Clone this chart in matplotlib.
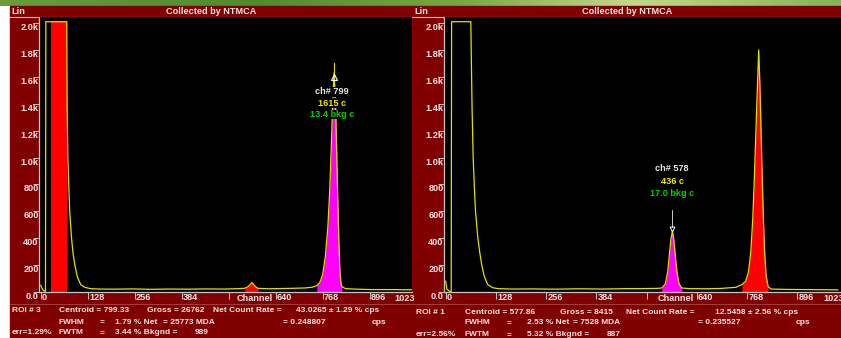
import numpy as np
import matplotlib
matplotlib.use('Agg')  # no display
import matplotlib.pyplot as plt
import matplotlib.transforms as mtransforms
from matplotlib import font_manager
from matplotlib.patches import Rectangle
from matplotlib.colors import LinearSegmentedColormap

plt.rcParams['font.family'] = ['Liberation Sans', 'DejaVu Sans']
plt.rcParams['font.weight'] = 'bold'

W, H = 841, 338
MAROON = '#800000'
TXT = '#f2e4e4'
YEL = '#e0e000'
AXIS = '#c4c4c4'

# the readout rows use a condensed face if there is one
_names = {f.name for f in font_manager.fontManager.ttflist}
if 'Liberation Sans Narrow' in _names:
    INFO_FONT, INFO_SIZE = ['Liberation Sans Narrow', 'DejaVu Sans'], 6.5
else:
    INFO_FONT, INFO_SIZE = ['Liberation Sans', 'DejaVu Sans'], 6.0

left_ch = [0, 3, 8, 13, 14, 27, 71, 72, 74, 77, 79, 84, 88, 93, 100, 109, 120, 136,
           160, 200, 250, 300, 350, 400, 450, 500, 540, 556, 565, 575, 585, 592,
           620, 680, 720, 740, 752, 760, 768, 775, 782, 787, 791, 795, 799, 803,
           806, 809, 812, 815, 818, 820, 830, 860, 900, 960, 1023]
left_counts = [50, 30, 10, 5, 2010, 2010, 2010, 1400, 1000, 750, 600, 400, 290, 200, 110, 55, 35, 25,
               22, 21, 23, 20, 22, 21, 23, 22, 25, 28, 40, 70, 40, 27,
               24, 27, 30, 36, 48, 70, 130, 260, 480, 750, 1050, 1400, 1630, 1400,
               1050, 700, 380, 150, 60, 40, 25, 21, 18, 18, 16]
left_roi_lo = [27, 556, 752]
left_roi_hi = [71, 592, 820]
left_roi_col = ['#ff0000', '#ff0000', '#ff00ff']

right_ch = [0, 3, 10, 14, 15, 64, 65, 67, 70, 73, 76, 82, 87, 92, 98, 107, 120, 133,
            170, 220, 280, 340, 400, 460, 500, 540, 551, 560, 566, 570, 574, 578,
            582, 586, 590, 595, 602, 620, 660, 700, 740, 755, 765, 772, 778, 783,
            787, 791, 795, 798, 801, 804, 807, 810, 813, 817, 822, 830, 870, 920, 1000]
right_counts = [80, 20, 5, 5, 2010, 2010, 1800, 1400, 1000, 780, 600, 400, 290, 200, 120, 55, 32, 25,
                22, 23, 21, 24, 22, 25, 25, 27, 30, 60, 150, 270, 390, 453,
                380, 250, 140, 60, 30, 25, 24, 26, 35, 55, 80, 150, 300, 550,
                850, 1200, 1550, 1800, 1550, 1200, 850, 550, 300, 120, 40, 22, 19, 18, 16]
right_roi_lo = [551, 755]
right_roi_hi = [602, 822]
right_roi_col = ['#ff00ff', '#ff0000']

y_ticks = [0, 200, 400, 600, 800, 1000, 1200, 1400, 1600, 1800, 2000]
y_labels = ['0.0', '200', '400', '600', '800', '1.0k', '1.2k', '1.4k', '1.6k', '1.8k', '2.0k']
x_ticks = [0, 128, 256, 384, 512, 640, 768, 896]
x_labels = ['0', '128', '256', '384', '', '640', '768', '896']

left_cursor = 799
left_marker = ['ch# 799', '1615 c', '13.4 bkg c']
right_cursor = 578
right_marker = ['ch# 578', '436 c', '17.0 bkg c']

# ROI readout lines under each screen: (x px, y px, text)
left_info = [
    (12, 311, 'ROI # 3'), (59, 311, 'Centroid = 799.33'), (147, 311, 'Gross = 26762'),
    (213, 311, 'Net Count Rate ='), (296, 311, '43.0265 \u00b1 1.29 % cps'),
    (59, 322, 'FWHM'), (100, 322, '='), (115, 322, '1.79 % Net'),
    (163, 322, '= 25773 MDA'), (283, 322, '= 0.248807'), (372, 322, 'cps'),
    (12, 333, 'err=1.29%'), (59, 333, 'FWTM'), (100, 333, '='),
    (115, 333, '3.44 % Bkgnd ='), (195, 333, '989'),
]
right_info = [
    (416, 312, 'ROI # 1'), (465, 312, 'Centroid = 577.86'), (560, 312, 'Gross = 8415'),
    (626, 312, 'Net Count Rate ='), (715, 312, '12.5458 \u00b1 2.56 % cps'),
    (465, 323, 'FWHM'), (507, 323, '='), (527, 323, '2.53 % Net'),
    (573, 323, '= 7528 MDA'), (698, 323, '= 0.235527'), (796, 323, 'cps'),
    (416, 335, 'err=2.56%'), (465, 335, 'FWTM'), (507, 335, '='),
    (527, 335, '5.32 % Bkgnd ='), (607, 335, '887'),
]

fig = plt.figure(figsize=(W / 100, H / 100), dpi=100)

# background layer in pixel coordinates
bg = fig.add_axes([0, 0, 1, 1])
bg.set_xlim(0, W)
bg.set_ylim(H, 0)
bg.axis('off')
bg.add_patch(Rectangle((0, 0), W, H, color='white', zorder=0))
green = LinearSegmentedColormap.from_list('slide', [
    (0.0, '#6a9c3c'), (0.3, '#4e8c2e'), (0.55, '#78a842'), (0.75, '#c4d88a'), (1.0, '#86b456')])
bg.imshow(np.linspace(0, 1, 300)[None, :], cmap=green, aspect='auto', extent=(0, W, 6, 0),
          zorder=1)
bg.set_xlim(0, W)
bg.set_ylim(H, 0)
bg.add_patch(Rectangle((10, 6), W - 10, H - 6, color=MAROON, zorder=1.5))
for x0, x1 in [(10, 412), (413, W)]:
    bg.plot([x0, x1], [16.5, 16.5], color=AXIS, lw=0.8, zorder=2)
    bg.plot([x0, x1], [303.5, 303.5], color='#a84848', lw=0.6, zorder=2)
    bg.text(x0 + 1.5, 11.5, 'Lin', color=TXT, fontsize=6.6, va='center')
    bg.text((x0 + x1) / 2, 11.5, 'Collected by NTMCA', color=TXT, fontsize=6.6,
            ha='center', va='center')
for x, y, s in left_info + right_info:
    bg.text(x, y, s, color=TXT, fontsize=INFO_SIZE, family=INFO_FONT, va='center')


def px_axes(x0, y0, x1, y1):
    return fig.add_axes([x0 / W, 1 - y1 / H, (x1 - x0) / W, (y1 - y0) / H])


def draw_panel(ax, ch, counts, lo, hi, cols, xlim):
    ch = np.array(ch)
    counts = np.array(counts)
    ax.set_facecolor('black')
    for a, b, c in zip(lo, hi, cols):
        mask = (ch >= a) & (ch <= b)
        ax.fill_between(ch, counts, where=mask, color=c, lw=0, zorder=1)
    ax.plot(ch, counts, color=YEL, lw=0.9, zorder=2)
    ax.set_xlim(*xlim)
    ax.set_ylim(0, 2045)
    for s in ['top', 'right']:
        ax.spines[s].set_visible(False)
    for s in ['left', 'bottom']:
        ax.spines[s].set_color(AXIS)
        ax.spines[s].set_linewidth(0.9)
    ax.set_yticks(y_ticks, y_labels)
    ax.set_xticks(x_ticks, x_labels)
    ax.tick_params(axis='y', direction='out', length=4, width=0.7, color=AXIS,
                   labelcolor=TXT, labelsize=6.6, pad=-3.6)
    ax.tick_params(axis='x', direction='out', length=5, width=0.7, color=AXIS,
                   labelcolor=TXT, labelsize=6.6, pad=-4)
    for t in ax.get_yticklabels():
        t.set_va('top')
    shift = mtransforms.ScaledTranslation(1 / 72, 0, fig.dpi_scale_trans)
    for t in ax.get_xticklabels():
        t.set_ha('left')
        t.set_transform(t.get_transform() + shift)
    ax.annotate('Channel', xy=(633, 0), xycoords=('data', 'axes fraction'),
                xytext=(0, -1.2), textcoords='offset points', ha='right', va='top',
                color=TXT, fontsize=6.6, annotation_clip=False)
    ax.annotate('1023', xy=(962, 0), xycoords=('data', 'axes fraction'),
                xytext=(0, -1.2), textcoords='offset points', ha='left', va='top',
                color=TXT, fontsize=6.6, annotation_clip=False)


def draw_marker(ax, ch, lines, y_text):
    colors = ['#e8e8e8', '#e8e800', '#00d000']
    for s, c, y in zip(lines, colors, y_text):
        ax.text(ch - 5, y, s, color=c, fontsize=6.6, ha='center', va='center', zorder=4,
                bbox=dict(facecolor='black', edgecolor='none', pad=0.3))


ax_l = px_axes(39.3, 17, 412, 292)
draw_panel(ax_l, left_ch, left_counts, left_roi_lo, left_roi_hi, left_roi_col, (-3.8, 1011.2))
ax_l.plot([left_cursor, left_cursor], [1580, 1700], color=YEL, lw=0.8, zorder=3)
ax_l.plot([left_cursor], [1600], marker='^', ms=5, mfc='none', mec='white', mew=0.8, zorder=3)
draw_marker(ax_l, left_cursor, left_marker, [1490, 1405, 1320])

ax_r = px_axes(444.3, 17, W, 292)
draw_panel(ax_r, right_ch, right_counts, right_roi_lo, right_roi_hi, right_roi_col, (-3.6, 1007.9))
ax_r.plot([right_cursor, right_cursor], [480, 610], color='#e8e8e8', lw=0.6, zorder=3)
ax_r.plot([right_cursor], [470], marker='v', ms=3.5, mfc='none', mec='white', mew=0.7, zorder=3)
draw_marker(ax_r, right_cursor + 4, right_marker, [915, 825, 736])

fig.savefig('out.png', dpi=100)
